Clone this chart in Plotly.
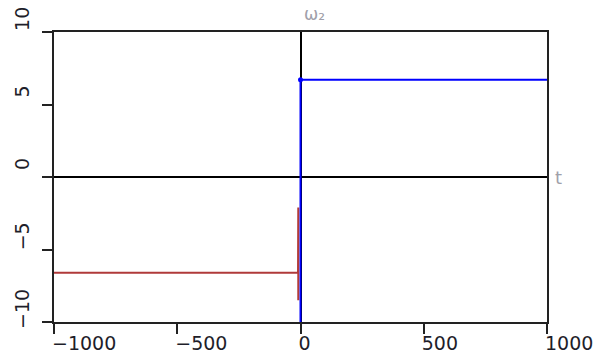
import plotly.graph_objects as go

# Data
red_t = [-1000, -10, -9, -9]
red_w = [-6.6, -6.6, -2.1, -8.5]
blue_t = [0, 0, 1000]
blue_w = [-10, 6.7, 6.7]
marker_t = [0]
marker_w = [6.7]
x_ticks = [-1000, -500, 0, 500, 1000]
y_ticks = [-10, -5, 0, 5, 10]
title_text = "ω₂"
x_label = "t"

fig = go.Figure()
fig.add_trace(go.Scatter(x=red_t, y=red_w, mode="lines",
                         line=dict(color="#b03a3a", width=2), hoverinfo="skip"))
fig.add_trace(go.Scatter(x=blue_t, y=blue_w, mode="lines",
                         line=dict(color="#0000ff", width=2), hoverinfo="skip"))
fig.add_trace(go.Scatter(x=marker_t, y=marker_w, mode="markers",
                         marker=dict(color="#0000ff", size=5), hoverinfo="skip"))

axis_common = dict(showgrid=False, zeroline=True, zerolinecolor="#000000", zerolinewidth=1.5,
                   showline=True, linecolor="#222222", linewidth=2, mirror=True, automargin=False,
                   ticks="outside", ticklen=10, tickwidth=2, tickcolor="#222222",
                   tickfont=dict(family="DejaVu Sans", size=19, color="#1e1e2a"))

fig.update_layout(
    width=602, height=362,
    margin=dict(l=54, r=55, t=32, b=40),
    paper_bgcolor="white", plot_bgcolor="white",
    showlegend=False,
    xaxis=dict(range=[-1000, 1000], tickvals=x_ticks, ticktext=[str(v).replace("-", "−") for v in x_ticks],
               ticklabelposition="outside right", ticklabelshift=-4, ticklabelstandoff=3, **axis_common),
    yaxis=dict(range=[-10, 10], tickvals=y_ticks, ticktext=[str(v).replace("-", "−") for v in y_ticks],
               tickangle=-90, ticklabelposition="outside top", ticklabelshift=4, ticklabelstandoff=15, **axis_common),
    annotations=[
        dict(text=title_text, x=0, y=10, xref="x", yref="y", xanchor="left", yanchor="bottom", xshift=1, yshift=6,
             showarrow=False, font=dict(family="DejaVu Sans", size=17, color="#a0a0aa")),
        dict(text=x_label, x=1000, y=0, xref="x", yref="y", xanchor="left", xshift=6,
             showarrow=False, font=dict(family="DejaVu Sans", size=18, color="#a0a0aa")),
    ],
)

fig.write_html("out.html")
